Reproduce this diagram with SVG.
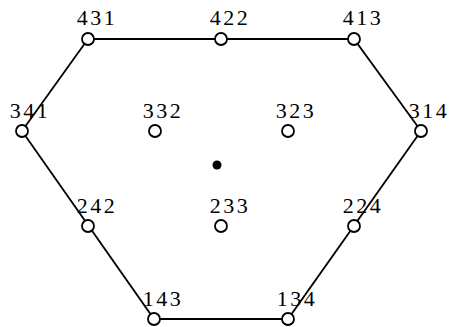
<svg xmlns="http://www.w3.org/2000/svg" width="453" height="327" viewBox="0 0 453 327">
<style>
.n circle{fill:#fff;stroke:#000;stroke-width:1.8}
.n text{font-family:"Liberation Serif","DejaVu Serif",serif;font-size:22px;text-anchor:middle;fill:#000;letter-spacing:2.5px}
.e{fill:none;stroke:#000;stroke-width:1.8}
</style>
<rect width="453" height="327" fill="#fff"/>
<g id="edges">
<polyline class="e" points="88,39 354,39 421,131 288,319 154,319 22,131 88,39"/>
</g>
<g id="n431" class="n"><circle cx="88" cy="39" r="6"/><text x="97" y="25">431</text></g>
<g id="n422" class="n"><circle cx="221" cy="39" r="6"/><text x="230" y="25">422</text></g>
<g id="n413" class="n"><circle cx="354" cy="39" r="6"/><text x="363" y="25">413</text></g>
<g id="n341" class="n"><circle cx="22" cy="131" r="6"/><text x="30" y="118">341</text></g>
<g id="n332" class="n"><circle cx="155" cy="131" r="6"/><text x="163" y="118">332</text></g>
<g id="n323" class="n"><circle cx="288" cy="131" r="6"/><text x="296" y="118">323</text></g>
<g id="n314" class="n"><circle cx="421" cy="131" r="6"/><text x="429" y="118">314</text></g>
<g id="center"><circle cx="217" cy="165" r="4.5" fill="#000"/></g>
<g id="n242" class="n"><circle cx="88" cy="226" r="6"/><text x="97" y="213">242</text></g>
<g id="n233" class="n"><circle cx="221" cy="226" r="6"/><text x="230" y="213">233</text></g>
<g id="n224" class="n"><circle cx="354" cy="226" r="6"/><text x="363" y="213">224</text></g>
<g id="n143" class="n"><circle cx="154" cy="319" r="6"/><text x="163" y="306">143</text></g>
<g id="n134" class="n"><circle cx="288" cy="319" r="6"/><text x="297" y="306">134</text></g>
</svg>
